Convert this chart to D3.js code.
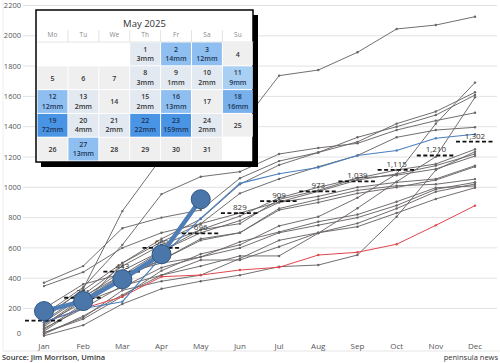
<!DOCTYPE html>
<html><head><meta charset="utf-8">
<script src="https://cdn.jsdelivr.net/npm/d3@7"></script>
<style>
html,body{margin:0;padding:0;background:#fff;}
svg{display:block;font-family:"Open Sans","DejaVu Sans",sans-serif;}
</style></head>
<body>
<svg id="c" width="500" height="363"></svg>
<script>
const months = ["Jan","Feb","Mar","Apr","May","Jun","Jul","Aug","Sep","Oct","Nov","Dec"];
const yTicks = [0,200,400,600,800,1000,1200,1400,1600,1800,2000,2200];
// historical cumulative rainfall (mm), one array per year
const grayYears = [
 [130,330,843,1195,1320,1400,1737,1774,1891,2045,2071,2126],
 [40,130,280,450,560,620,745,806,931,1088,1420,1691],
 [370,480,730,800,850,1060,1173,1230,1300,1420,1500,1627],
 [60,230,500,660,790,1020,1147,1230,1330,1400,1477,1609],
 [30,150,290,420,480,547,547,697,862,1037,1202,1594],
 [160,340,620,955,1070,1103,1220,1260,1290,1378,1440,1492],
 [348,440,600,700,760,960,1055,1136,1210,1330,1378,1396],
 [80,260,420,580,720,760,920,980,1060,1114,1154,1251],
 [20,90,230,330,380,420,476,487,553,806,1114,1235],
 [150,320,500,640,760,830,903,973,1048,1088,1143,1220],
 [120,290,480,620,720,810,930,1000,1060,1080,1121,1206],
 [90,270,450,580,700,780,900,940,1000,1033,1055,1143],
 [50,220,400,520,650,700,850,900,960,1000,1048,1136],
 [100,240,340,470,540,640,705,773,820,905,997,1009],
 [200,360,430,500,540,600,700,750,800,880,987,1033],
 [70,200,350,420,520,520,608,700,762,860,971,1022],
 [110,280,420,520,660,700,860,920,980,1010,1020,1054],
 [40,140,320,380,420,530,650,700,740,830,923,997]
];
const blueYear = [110,200,245,542,795,1026,1090,1131,1210,1243,1324,1350];
const redYear  = [110,200,278,410,421,454,472,553,571,624,749,879];
const current2025 = [183,249,393,558,921];
const averages = [120,271,443,600,696,829,909,973,1039,1115,1210,1302];
const averageLabels = ["120","271","443","600","696","829","909","973","1,039","1,115","1,210","1,302"];
// May 2025 daily rainfall calendar
const calTitle = "May 2025";
const weekdays = ["Mo","Tu","We","Th","Fr","Sa","Su"];
const firstWeekday = 3; // Thursday
const mayDays = [1,2,3,4,5,6,7,8,9,10,11,12,13,14,15,16,17,18,19,20,21,22,23,24,25,26,27,28,29,30,31];
const mayRain = [3,14,12,0,0,0,0,3,1,2,9,12,2,0,2,13,0,16,72,4,2,22,159,2,0,0,13,0,0,0,0];

const svg = d3.select("#c");
const x = d3.scalePoint().domain(months).range([44,475]);
const y = d3.scaleLinear().domain([0,2200]).range([338.8,5.5]);

// frame
svg.append("line").attr("x1",3).attr("x2",500).attr("y1",351).attr("y2",351).attr("stroke","#e6e6e6");
svg.append("line").attr("x1",3).attr("x2",3).attr("y1",0).attr("y2",351).attr("stroke","#eeeeee");

// grid + y labels
const gy = svg.append("g");
gy.selectAll("line").data(yTicks.filter(d=>d>0)).join("line")
  .attr("x1",23).attr("x2",497).attr("y1",d=>y(d)).attr("y2",d=>y(d))
  .attr("stroke","#e2e2e2").attr("stroke-width",1);
gy.selectAll("text").data(yTicks).join("text")
  .attr("x",21).attr("y",d=>y(d)+(d===0?-5:0)).attr("dy","0.35em")
  .attr("text-anchor","end").attr("font-size",7.5).attr("fill","#555").text(d=>d);

// x labels
svg.append("g").selectAll("text").data(months).join("text")
  .attr("x",d=>x(d)).attr("y",346).attr("dy","0.35em").attr("text-anchor","middle")
  .attr("font-size",8).attr("fill","#555").text(d=>d);

const line = d3.line().x((d,i)=>x(months[i])).y(d=>y(d));

function drawSeries(data,color,w){
  const g = svg.append("g");
  g.append("path").datum(data).attr("d",line).attr("fill","none").attr("stroke",color).attr("stroke-width",w);
  g.selectAll("circle").data(data).join("circle").attr("cx",(d,i)=>x(months[i])).attr("cy",d=>y(d))
    .attr("r",1.2).attr("fill",color);
}
grayYears.forEach(s=>drawSeries(s,"#6a6666",0.95));
drawSeries(redYear,"#e0474c",1);
drawSeries(blueYear,"#4a7fc0",1.1);

// averages
const ga = svg.append("g");
ga.selectAll("line").data(averages).join("line")
  .attr("x1",(d,i)=>x(months[i])-19).attr("x2",(d,i)=>x(months[i])+19)
  .attr("y1",d=>y(d)).attr("y2",d=>y(d))
  .attr("stroke","#111").attr("stroke-width",1.8).attr("stroke-dasharray","4,2.5");
ga.selectAll("text").data(averages).join("text")
  .attr("x",(d,i)=>x(months[i])).attr("y",d=>y(d)-3)
  .attr("text-anchor","middle").attr("font-size",8).attr("fill","#333").text((d,i)=>averageLabels[i]);

// 2025
const g25 = svg.append("g");
g25.append("path").datum(current2025).attr("d",line).attr("fill","none").attr("stroke","#4f7db5").attr("stroke-width",4.5).attr("stroke-linejoin","round");
g25.selectAll("circle").data(current2025).join("circle")
  .attr("cx",(d,i)=>x(months[i])).attr("cy",d=>y(d)).attr("r",9.5)
  .attr("fill","#4a76aa").attr("stroke","#2f5786").attr("stroke-width",1);

// Calendar
const cal = svg.append("g");
const cx0 = 37, cy0 = 42, cw = 30.9, ch = 23.8;
const calX = 36, calY = 10, calW = 217, calH = 152;
cal.append("rect").attr("x",calX+5).attr("y",calY+5).attr("width",calW).attr("height",calH).attr("fill","#000");
cal.append("rect").attr("x",calX).attr("y",calY).attr("width",calW).attr("height",calH).attr("fill","#fff").attr("stroke","#000").attr("stroke-width",1.5);
cal.append("text").attr("x",calX+calW/2).attr("y",27).attr("text-anchor","middle").attr("font-size",9.5).attr("fill","#333").text(calTitle);
cal.selectAll(".wd").data(weekdays).join("text").attr("class","wd")
  .attr("x",(d,i)=>cx0+cw*i+cw/2).attr("y",37).attr("text-anchor","middle")
  .attr("font-size",6.5).attr("fill","#888").text(d=>d);
cal.selectAll(".sep").data(d3.range(1,7)).join("line").attr("class","sep")
  .attr("x1",i=>cx0+cw*i).attr("x2",i=>cx0+cw*i).attr("y1",30).attr("y2",cy0).attr("stroke","#e4e4e4");
cal.append("line").attr("x1",cx0).attr("x2",cx0+cw*7).attr("y1",cy0).attr("y2",cy0).attr("stroke","#e4e4e4");
function cellColor(mm){
  if(mm===0) return "#efefef";
  if(mm<5) return "#e3e9f1";
  if(mm<10) return "#a9cff3";
  if(mm<15) return "#8fbff0";
  if(mm<20) return "#78b0ec";
  return "#4a94e6";
}
const cells = mayDays.map((d,i)=>{const k=i+firstWeekday;return {day:d,mm:mayRain[i],col:k%7,row:Math.floor(k/7)};});
const cg = cal.selectAll(".cell").data(cells).join("g").attr("class","cell")
  .attr("transform",d=>`translate(${cx0+d.col*cw},${cy0+d.row*ch})`);
cg.append("rect").attr("x",0.5).attr("y",0.5).attr("width",cw-1).attr("height",ch-1).attr("fill",d=>cellColor(d.mm));
cg.append("text").attr("x",cw/2).attr("y",d=>d.mm>0?9.5:ch/2+3).attr("text-anchor","middle")
  .attr("font-size",7).attr("font-weight",600).attr("fill",d=>d.mm>=5?"#1d3557":"#333").text(d=>d.day);
cg.filter(d=>d.mm>0).append("text").attr("x",cw/2).attr("y",19).attr("text-anchor","middle")
  .attr("font-size",7).attr("font-weight",600).attr("fill",d=>d.mm>=5?"#1d3557":"#333").text(d=>d.mm+"mm");

// footer
svg.append("text").attr("x",2).attr("y",360).attr("font-size",7.5).attr("font-weight",600).attr("fill","#333").text("Source: Jim Morrison, Umina");
svg.append("text").attr("x",498).attr("y",360).attr("text-anchor","end").attr("font-size",7.5).attr("fill","#333").text("peninsula news");
</script>
</body></html>
